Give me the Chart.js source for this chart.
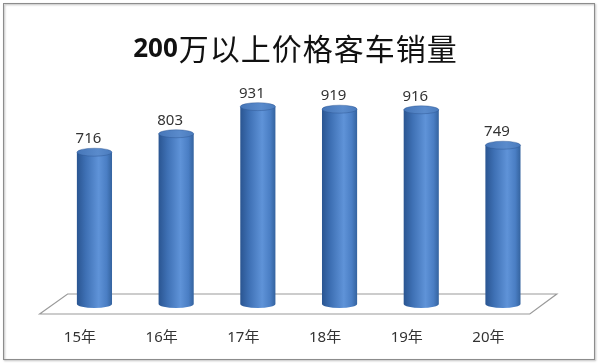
<!DOCTYPE html>
<html>
<head>
<meta charset="utf-8">
<script src="https://cdn.jsdelivr.net/npm/chart.js@4"></script>
<style>
  html, body { margin: 0; padding: 0; background: #fff; }
  .wrap { position: relative; width: 600px; height: 363px; }
</style>
</head>
<body>
<div class="wrap"><canvas class="chart1" width="600" height="363"></canvas></div>
<script>
const title = ['200', '万以上价格客车销量'];
const years = ['15年', '16年', '17年', '18年', '19年', '20年'];
const sales = [716, 803, 931, 919, 916, 749];

// frame + white background
const framePlugin = {
  id: 'frame',
  beforeDraw(chart) {
    const ctx = chart.ctx;
    ctx.save();
    ctx.fillStyle = '#fff';
    ctx.fillRect(0, 0, chart.width, chart.height);
    ctx.shadowColor = 'rgba(0,0,0,0.35)';
    ctx.shadowOffsetX = 1;
    ctx.shadowOffsetY = 1;
    ctx.shadowBlur = 2;
    ctx.strokeStyle = '#8c8c8c';
    ctx.lineWidth = 1;
    ctx.strokeRect(3.5, 3.5, 591, 356);
    ctx.restore();

    // title: bold digits, regular chinese
    ctx.save();
    ctx.textBaseline = 'middle';
    ctx.fillStyle = '#111';
    ctx.font = 'bold 26px "Noto Sans", "Noto Sans CJK SC"';
    const w1 = ctx.measureText(title[0]).width;
    ctx.font = '30px "Noto Sans CJK SC"';
    ctx.letterSpacing = '1px';
    const w2 = ctx.measureText(title[1]).width;
    let x = 295 - (w1 + w2) / 2;
    ctx.letterSpacing = '0px';
    ctx.font = 'bold 26px "Noto Sans", "Noto Sans CJK SC"';
    ctx.fillText(title[0], x, 50);
    ctx.font = '30px "Noto Sans CJK SC"';
    ctx.letterSpacing = '1px';
    ctx.fillText(title[1], x + w1 + 1, 49);
    ctx.restore();
  },
  // 3d floor
  beforeDatasetsDraw(chart) {
    const a = chart.chartArea;
    const ctx = chart.ctx;
    ctx.save();
    ctx.strokeStyle = '#9a9a9a';
    ctx.lineWidth = 1.2;
    ctx.beginPath();
    ctx.moveTo(a.left - 14, a.bottom + 10);
    ctx.lineTo(a.left + 14, a.bottom - 10);
    ctx.lineTo(a.right + 13, a.bottom - 10);
    ctx.lineTo(a.right - 14, a.bottom + 10);
    ctx.closePath();
    ctx.stroke();
    ctx.restore();
  },
  // cylinders + value labels
  afterDatasetsDraw(chart) {
    const ctx = chart.ctx;
    const meta = chart.getDatasetMeta(0);
    meta.data.forEach((bar, i) => {
      const p = bar.getProps(['x', 'y', 'base', 'width'], true);
      const l = p.x - p.width / 2, r = p.x + p.width / 2;
      const rx = p.width / 2, ry = 4;
      const g = ctx.createLinearGradient(l, 0, r, 0);
      g.addColorStop(0, '#2a5591');
      g.addColorStop(0.25, '#3e70b4');
      g.addColorStop(0.62, '#5f93d8');
      g.addColorStop(0.85, '#4a7ec4');
      g.addColorStop(1, '#34639f');
      ctx.save();
      ctx.fillStyle = g;
      ctx.beginPath();
      ctx.moveTo(l, p.y);
      ctx.lineTo(l, p.base);
      ctx.ellipse(p.x, p.base, rx, ry, 0, Math.PI, 0, true);
      ctx.lineTo(r, p.y);
      ctx.closePath();
      ctx.fill();
      const g2 = ctx.createLinearGradient(l, 0, r, 0);
      g2.addColorStop(0, '#4676b8');
      g2.addColorStop(0.6, '#5a8bcc');
      g2.addColorStop(1, '#4a7bbd');
      ctx.fillStyle = g2;
      ctx.beginPath();
      ctx.ellipse(p.x, p.y, rx, ry, 0, 0, Math.PI * 2);
      ctx.fill();
      ctx.strokeStyle = 'rgba(40,80,140,0.5)';
      ctx.lineWidth = 0.8;
      ctx.stroke();

      ctx.fillStyle = '#333';
      ctx.font = '15px "Noto Sans"';
      ctx.textAlign = 'center';
      ctx.textBaseline = 'middle';
      ctx.fillText(sales[i], p.x - 6, p.y - 13);
      ctx.restore();
    });
  }
};

const data = {
  labels: years,
  datasets: [
    {
      label: '销量',
      data: sales,
      backgroundColor: 'rgba(0,0,0,0)',
      borderWidth: 0,
      barPercentage: 0.43,
      categoryPercentage: 1
    }
  ]
};

const config = {
  type: 'bar',
  data,
  plugins: [framePlugin],
  options: {
    responsive: false,
    animation: false,
    layout: {
      padding: { left: 53.6, right: 56.2, top: 92, bottom: 19 }
    },
    plugins: {
      legend: { display: false },
      tooltip: { enabled: false }
    },
    scales: {
      y: {
        display: false,
        min: 0,
        max: 1000
      },
      x: {
        grid: { display: false, drawTicks: false },
        border: { display: false },
        afterFit(scale) { scale.height = 40; },
        ticks: {
          color: '#333',
          font: { size: 15, family: '"Noto Sans", "Noto Sans CJK SC"' },
          padding: 25,
          labelOffset: -14.5,
          maxRotation: 0
        }
      }
    }
  }
};

const barChart = new Chart(document.querySelector('.chart1'), config);
</script>
</body>
</html>
